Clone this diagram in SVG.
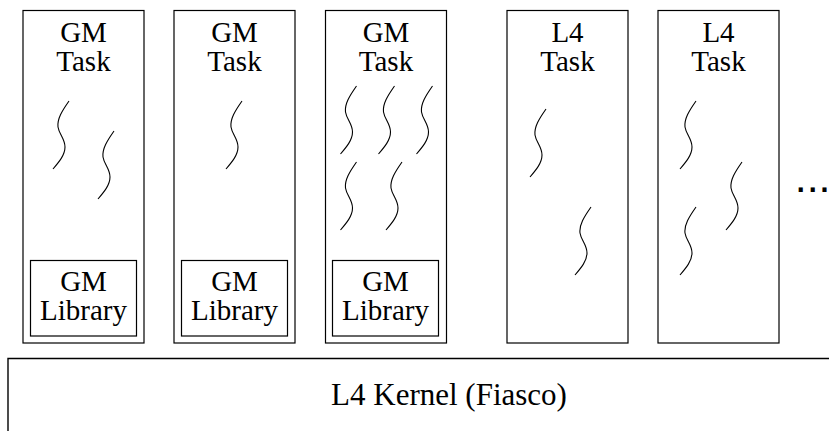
<svg xmlns="http://www.w3.org/2000/svg" xmlns:xlink="http://www.w3.org/1999/xlink" width="829" height="431" viewBox="0 0 829 431" font-family="'Liberation Serif', 'DejaVu Serif', serif">
<style>
.box{fill:#fff;stroke:#000;stroke-width:1.2}
.lbl{font-family:'Liberation Serif','DejaVu Serif',serif;font-size:29px;fill:#000;text-anchor:middle}
.big{font-size:31px}
.sq{fill:none;stroke:#000;stroke-width:1.1}
</style>
<defs>
<path id="sq" class="sq" d="M0,0 C-7,10 -12,18 -11,26 C-10,33 -4,38 -4,46 C-4,54 -10,61 -16,68"/>
</defs>
<rect width="829" height="431" fill="#fff"/>
<g id="kernel">
<path d="M8,431 V358.5 H829" fill="none" stroke="#000" stroke-width="1.4"/>
<text class="lbl big" x="449" y="405">L4 Kernel (Fiasco)</text>
</g>
<g id="gm1">
<rect class="box" x="23" y="10.5" width="121" height="332.5"/>
<text class="lbl" x="83.5" y="41.5">GM</text>
<text class="lbl" x="83.5" y="71">Task</text>
<use xlink:href="#sq" x="69" y="101"/>
<use xlink:href="#sq" x="114" y="131"/>
</g>
<g id="gmlib1">
<rect class="box" x="30.5" y="260.5" width="106" height="75.5"/>
<text class="lbl" x="83.5" y="291">GM</text>
<text class="lbl" x="83.5" y="320">Library</text>
</g>
<g id="gm2">
<rect class="box" x="174" y="10.5" width="121" height="332.5"/>
<text class="lbl" x="234.5" y="41.5">GM</text>
<text class="lbl" x="234.5" y="71">Task</text>
<use xlink:href="#sq" x="242" y="101"/>
</g>
<g id="gmlib2">
<rect class="box" x="181.5" y="260.5" width="106" height="75.5"/>
<text class="lbl" x="234.5" y="291">GM</text>
<text class="lbl" x="234.5" y="320">Library</text>
</g>
<g id="gm3">
<rect class="box" x="325.5" y="10.5" width="121" height="332.5"/>
<text class="lbl" x="386" y="41.5">GM</text>
<text class="lbl" x="386" y="71">Task</text>
<use xlink:href="#sq" x="356.5" y="86"/>
<use xlink:href="#sq" x="394.5" y="86"/>
<use xlink:href="#sq" x="432.5" y="86"/>
<use xlink:href="#sq" x="356.5" y="162"/>
<use xlink:href="#sq" x="402" y="162"/>
</g>
<g id="gmlib3">
<rect class="box" x="332.5" y="260.5" width="106" height="75.5"/>
<text class="lbl" x="385.5" y="291">GM</text>
<text class="lbl" x="385.5" y="320">Library</text>
</g>
<g id="l4a">
<rect class="box" x="507" y="10.5" width="121" height="332.5"/>
<text class="lbl" x="567.5" y="41.5">L4</text>
<text class="lbl" x="567.5" y="71">Task</text>
<use xlink:href="#sq" x="546" y="109"/>
<use xlink:href="#sq" x="591" y="207"/>
</g>
<g id="l4b">
<rect class="box" x="658" y="10.5" width="121" height="332.5"/>
<text class="lbl" x="718.5" y="41.5">L4</text>
<text class="lbl" x="718.5" y="71">Task</text>
<use xlink:href="#sq" x="696" y="101"/>
<use xlink:href="#sq" x="742" y="162"/>
<use xlink:href="#sq" x="696" y="207"/>
</g>
<g id="more">
<text x="794.7" y="192" font-family="'Liberation Sans', sans-serif" font-size="43" fill="#000">...</text>
</g>
<g id="connectors"/>
</svg>
